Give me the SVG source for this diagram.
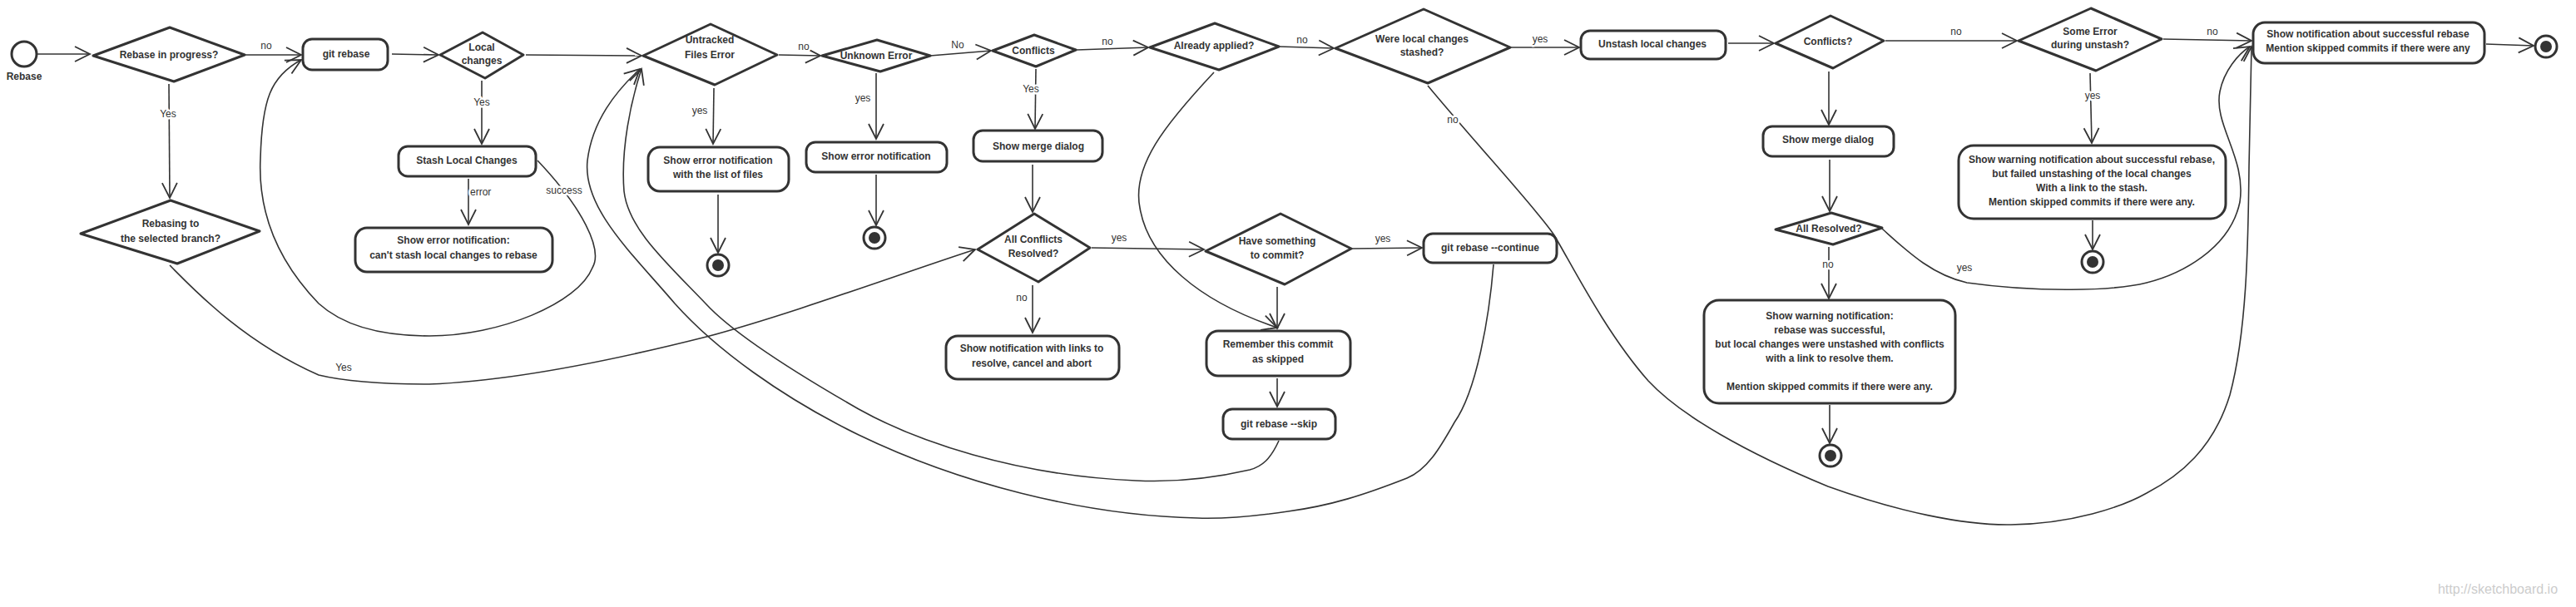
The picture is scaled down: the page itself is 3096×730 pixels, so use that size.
<svg xmlns="http://www.w3.org/2000/svg" width="3096" height="730" viewBox="0 0 3096 730">
<style>
.n{fill:#fff;stroke:#333;stroke-width:3;stroke-linejoin:round}
.t{font-family:"Liberation Sans",Arial,sans-serif;font-size:12px;font-weight:bold;fill:#333;text-anchor:middle}
.c{fill:none;stroke:#333;stroke-width:1.6;marker-end:url(#ah)}
.cn{fill:none;stroke:#333;stroke-width:1.6}
.l{font-family:"Liberation Sans",Arial,sans-serif;font-size:12px;fill:#333;text-anchor:middle;paint-order:stroke;stroke:#fff;stroke-width:5px;stroke-linejoin:round}
.e{fill:#fff;stroke:#333;stroke-width:3}
.ei{fill:#333}
</style>
<defs>
<marker id="ah" markerUnits="userSpaceOnUse" markerWidth="24" markerHeight="24" viewBox="-20 -12 24 24" refX="0" refY="0" orient="auto">
<path d="M-18,-9 L0,0 L-18,9" fill="none" stroke="#333" stroke-width="1.8"/>
</marker>
</defs>
<rect width="3096" height="730" fill="#fff"/>
<g id="connectors">
<path class="c" d="M44,65 L108,65"/>
<path class="c" d="M294,66 L362,66"/>
<path class="c" d="M471,65 L527,66"/>
<path class="c" d="M203,101 L204,238"/>
<path class="c" d="M632,66 L771,67"/>
<path class="c" d="M579,97 L579,173"/>
<path class="c" d="M563,215 L563,270"/>
<path class="c" d="M646,193 C700,250 725,300 712,322 C695,365 600,404 516,404 C445,404 405,385 383,365 C330,310 310,250 313,190 C315,120 325,92 362,72"/>
<path class="c" d="M936,66 L986,67"/>
<path class="c" d="M858,106 L857,173"/>
<path class="c" d="M863,234 L863,304"/>
<path class="c" d="M1118,67 L1191,61"/>
<path class="c" d="M1053,88 L1053,167"/>
<path class="c" d="M1053,210 L1053,271"/>
<path class="c" d="M1294,60 L1380,57"/>
<path class="c" d="M1245,83 L1244,155"/>
<path class="c" d="M1241,198 L1241,255"/>
<path class="c" d="M1312,298 L1447,300"/>
<path class="c" d="M1241,343 L1241,400"/>
<path class="c" d="M1459,87 C1400,150 1360,200 1370,250 C1380,310 1440,362 1535,394"/>
<path class="c" d="M1535,345 L1535,395"/>
<path class="c" d="M1625,299 L1709,298"/>
<path class="c" d="M1535,455 L1535,489"/>
<path class="c" d="M1537,530 C1527,552 1517,561 1502,565 C1450,577 1405,580 1365,578 C1220,572 1100,530 1032,492 C950,445 880,400 848,365 C800,315 755,275 750,230 C746,180 758,122 771,83"/>
<path class="c" d="M1795,318 C1790,380 1775,470 1748,508 C1730,540 1715,565 1691,575 C1640,595 1600,608 1548,615 C1500,622 1470,624 1439,623 C1300,620 1150,580 1032,523 C940,478 860,420 811,365 C760,305 700,250 706,193 C712,145 740,110 769,83"/>
<path class="c" d="M204,319 C230,345 290,410 383,451 C420,460 470,462 516,462 C620,458 750,430 849,405 C950,378 1080,330 1172,300"/>
<path class="c" d="M1537,56 L1603,58"/>
<path class="c" d="M1816,57 L1898,57"/>
<path class="c" d="M1716,103 C1780,180 1850,255 1868,283 C1890,320 1930,400 1981,458 C2020,500 2100,545 2197,585 C2280,615 2360,632 2417,631 C2490,630 2550,610 2580,593 C2620,572 2660,540 2680,475 C2700,400 2702,300 2703,200 L2706,56"/>
<path class="c" d="M2077,52 L2132,52"/>
<path class="c" d="M2266,49 L2424,49"/>
<path class="c" d="M2198,86 L2198,150"/>
<path class="c" d="M2199,192 L2199,254"/>
<path class="c" d="M2198,297 L2198,359"/>
<path class="c" d="M2262,275 C2290,300 2320,330 2364,340 C2450,352 2540,350 2580,340 C2620,330 2680,300 2692,243 C2700,190 2660,150 2668,110 C2673,85 2690,65 2704,56"/>
<path class="c" d="M2600,47 L2706,49"/>
<path class="c" d="M2512,88 L2514,172"/>
<path class="c" d="M2515,265 L2515,300"/>
<path class="c" d="M2199,487 L2199,533"/>
<path class="c" d="M2988,53 L3045,55"/>
<text class="l" x="320" y="59">no</text>
<text class="l" x="202" y="141">Yes</text>
<text class="l" x="579" y="127">Yes</text>
<text class="l" x="565" y="235" style="text-anchor:start">error</text>
<text class="l" x="678" y="233">success</text>
<text class="l" x="966" y="60">no</text>
<text class="l" x="841" y="137">yes</text>
<text class="l" x="1151" y="58">No</text>
<text class="l" x="1037" y="122">yes</text>
<text class="l" x="1331" y="54">no</text>
<text class="l" x="1239" y="111">Yes</text>
<text class="l" x="1345" y="290">yes</text>
<text class="l" x="1228" y="362">no</text>
<text class="l" x="1662" y="291">yes</text>
<text class="l" x="413" y="446">Yes</text>
<text class="l" x="1565" y="52">no</text>
<text class="l" x="1851" y="51">yes</text>
<text class="l" x="1746" y="148">no</text>
<text class="l" x="2351" y="42">no</text>
<text class="l" x="2197" y="322">no</text>
<text class="l" x="2361" y="326">yes</text>
<text class="l" x="2659" y="42">no</text>
<text class="l" x="2515" y="119">yes</text>
</g>
<g id="start">
<circle class="e" cx="29" cy="65" r="15"/>
<text class="t" x="29" y="96">Rebase</text>
</g>
<g id="d_progress">
<polygon class="n" points="112,67 204,33 294,66 209,98"/>
<text class="t" x="203" y="70">Rebase in progress?</text>
</g>
<g id="d_rebasing">
<polygon class="n" points="97,281 205,241 312,278 213,317"/>
<text class="t" x="205" y="273">Rebasing to</text>
<text class="t" x="205" y="291">the selected branch?</text>
</g>
<g id="git_rebase">
<rect class="n" x="364" y="47" width="102" height="37" rx="11"/>
<text class="t" x="416" y="69">git rebase</text>
</g>
<g id="d_local">
<polygon class="n" points="529,66 580,39 629,66 583,94"/>
<text class="t" x="579" y="61">Local</text>
<text class="t" x="579" y="77">changes</text>
</g>
<g id="stash">
<rect class="n" x="479" y="176" width="165" height="36" rx="11"/>
<text class="t" x="561" y="197">Stash Local Changes</text>
</g>
<g id="stash_err">
<rect class="n" x="427" y="274" width="237" height="53" rx="14"/>
<text class="t" x="545" y="293">Show error notification:</text>
<text class="t" x="545" y="311">can't stash local changes to rebase</text>
</g>
<g id="d_untracked">
<polygon class="n" points="773,67 854,29 934,66 859,102"/>
<text class="t" x="853" y="52">Untracked</text>
<text class="t" x="853" y="70">Files Error</text>
</g>
<g id="untracked_err">
<rect class="n" x="779" y="177" width="169" height="53" rx="14"/>
<text class="t" x="863" y="197">Show error notification</text>
<text class="t" x="863" y="214">with the list of files</text>
</g>
<g id="end1">
<circle class="e" cx="863" cy="319" r="13"/>
<circle class="ei" cx="863" cy="319" r="7"/>
</g>
<g id="d_unknown">
<polygon class="n" points="988,67 1054,48 1118,67 1058,86"/>
<text class="t" x="1053" y="71">Unknown Error</text>
</g>
<g id="unknown_err">
<rect class="n" x="969" y="171" width="169" height="36" rx="11"/>
<text class="t" x="1053" y="192">Show error notification</text>
</g>
<g id="end2">
<circle class="e" cx="1051" cy="286" r="13"/>
<circle class="ei" cx="1051" cy="286" r="7"/>
</g>
<g id="d_conflicts">
<polygon class="n" points="1193,61 1243,42 1293,60 1245,80"/>
<text class="t" x="1242" y="65">Conflicts</text>
</g>
<g id="merge1">
<rect class="n" x="1170" y="157" width="155" height="37" rx="11"/>
<text class="t" x="1248" y="180">Show merge dialog</text>
</g>
<g id="d_allconf">
<polygon class="n" points="1175,300 1243,257 1310,298 1248,339"/>
<text class="t" x="1242" y="292">All Conflicts</text>
<text class="t" x="1242" y="309">Resolved?</text>
</g>
<g id="notif_links">
<rect class="n" x="1137" y="404" width="208" height="52" rx="14"/>
<text class="t" x="1240" y="423">Show notification with links to</text>
<text class="t" x="1240" y="441">resolve, cancel and abort</text>
</g>
<g id="d_applied">
<polygon class="n" points="1382,57 1460,28 1537,56 1465,84"/>
<text class="t" x="1459" y="59">Already applied?</text>
</g>
<g id="d_commit">
<polygon class="n" points="1449,302 1539,257 1624,299 1544,342"/>
<text class="t" x="1535" y="294">Have something</text>
<text class="t" x="1535" y="311">to commit?</text>
</g>
<g id="remember">
<rect class="n" x="1450" y="398" width="173" height="54" rx="14"/>
<text class="t" x="1536" y="418">Remember this commit</text>
<text class="t" x="1536" y="436">as skipped</text>
</g>
<g id="skip">
<rect class="n" x="1470" y="492" width="135" height="36" rx="11"/>
<text class="t" x="1537" y="514">git rebase --skip</text>
</g>
<g id="continue">
<rect class="n" x="1711" y="281" width="160" height="35" rx="11"/>
<text class="t" x="1791" y="302">git rebase --continue</text>
</g>
<g id="d_stashed">
<polygon class="n" points="1605,58 1711,11 1815,57 1716,100"/>
<text class="t" x="1709" y="51">Were local changes</text>
<text class="t" x="1709" y="67">stashed?</text>
</g>
<g id="unstash">
<rect class="n" x="1900" y="37" width="174" height="34" rx="11"/>
<text class="t" x="1986" y="57">Unstash local changes</text>
</g>
<g id="d_conf2">
<polygon class="n" points="2134,52 2200,19 2264,49 2203,82"/>
<text class="t" x="2197" y="54">Conflicts?</text>
</g>
<g id="merge2">
<rect class="n" x="2119" y="152" width="157" height="36" rx="11"/>
<text class="t" x="2197" y="172">Show merge dialog</text>
</g>
<g id="d_allres">
<polygon class="n" points="2134,276 2201,256 2262,274 2203,294"/>
<text class="t" x="2198" y="279">All Resolved?</text>
</g>
<g id="warn_conf">
<rect class="n" x="2048" y="361" width="302" height="124" rx="18"/>
<text class="t" x="2199" y="384">Show warning notification:</text>
<text class="t" x="2199" y="401">rebase was successful,</text>
<text class="t" x="2199" y="418">but local changes were unstashed with conflicts</text>
<text class="t" x="2199" y="435">with a link to resolve them.</text>
<text class="t" x="2199" y="469">Mention skipped commits if there were any.</text>
</g>
<g id="end4">
<circle class="e" cx="2200" cy="548" r="13"/>
<circle class="ei" cx="2200" cy="548" r="7"/>
</g>
<g id="d_someerr">
<polygon class="n" points="2426,49 2513,10 2598,47 2519,85"/>
<text class="t" x="2512" y="42">Some Error</text>
<text class="t" x="2512" y="58">during unstash?</text>
</g>
<g id="warn_unstash">
<rect class="n" x="2354" y="175" width="321" height="88" rx="18"/>
<text class="t" x="2514" y="196">Show warning notification about successful rebase,</text>
<text class="t" x="2514" y="213">but failed unstashing of the local changes</text>
<text class="t" x="2514" y="230">With a link to the stash.</text>
<text class="t" x="2514" y="247">Mention skipped commits if there were any.</text>
</g>
<g id="end3">
<circle class="e" cx="2515" cy="315" r="13"/>
<circle class="ei" cx="2515" cy="315" r="7"/>
</g>
<g id="success">
<rect class="n" x="2708" y="27" width="278" height="49" rx="14"/>
<text class="t" x="2846" y="45">Show notification about successful rebase</text>
<text class="t" x="2846" y="62">Mention skipped commits if there were any</text>
</g>
<g id="end5">
<circle class="e" cx="3060" cy="56" r="13"/>
<circle class="ei" cx="3060" cy="56" r="7"/>
</g>
<text x="3002" y="714" style="font-family:'Liberation Sans',Arial,sans-serif;font-size:16px;fill:#ccc;text-anchor:middle">http://sketchboard.io</text>
</svg>
